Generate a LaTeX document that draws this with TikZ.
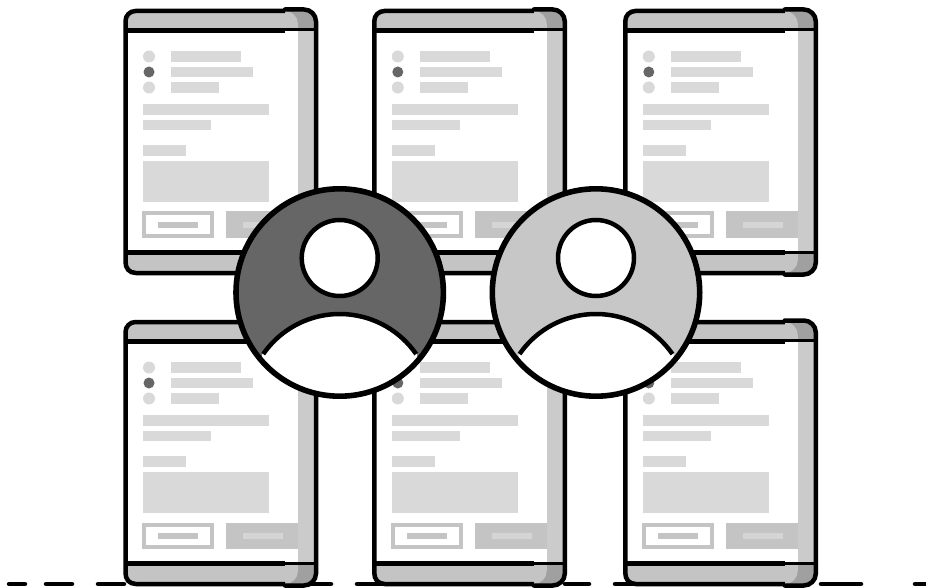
\documentclass[tikz,border=0pt]{standalone}
\definecolor{hdr}{HTML}{C4C4C4}
\definecolor{hdrdark}{HTML}{A0A0A0}
\definecolor{strip}{HTML}{CBCBCB}
\definecolor{barc}{HTML}{D9D9D9}
\definecolor{dotdark}{HTML}{666666}
\definecolor{avatarlight}{HTML}{C7C7C7}
\tikzset{
  ink/.style={draw=black,line width=4.5pt},
  bar/.style={fill=barc},
  avatar/.style={draw=black,line width=5.6pt},
}
\newcommand{\phone}[2]{%
\begin{scope}[shift={(#1,#2)}]
  % body
  \fill[white] (125.5,20) rectangle (316,262);
  \fill[strip] (298,28) rectangle (316,254);
  % header and footer fills
  \fill[hdrdark] (125.5,30) -- (125.5,21) arc[start angle=180,end angle=270,radius=10] -- (285,9.5) -- (304,9.5) arc[start angle=270,end angle=360,radius=12] -- (316,30) -- cycle;
  \fill[hdr] (125.5,30) -- (125.5,21) arc[start angle=180,end angle=270,radius=10] -- (285,11) arc[start angle=270,end angle=360,radius=13] -- (298,30) -- cycle;
  \fill[hdrdark] (125.5,253) -- (125.5,262) .. controls (125.5,268) and (129,273) .. (136,273) -- (304,274.5) arc[start angle=90,end angle=0,radius=12] -- (316,253) -- cycle;
  \fill[hdr] (125.5,253) -- (125.5,262) .. controls (125.5,268) and (129,273) .. (136,273) -- (285,273) .. controls (292,273) and (298,267) .. (298,260) -- (298,253) -- cycle;
  % outline
  \draw[ink] (125.5,30) -- (125.5,262) .. controls (125.5,268) and (129,273) .. (136,273) -- (285,273);
  \draw[ink] (125.5,30) -- (125.5,21) arc[start angle=180,end angle=270,radius=10] -- (285,11);
  \draw[ink,line cap=round] (285,9.5) -- (304,9.5) arc[start angle=270,end angle=360,radius=12] -- (316,262.5) arc[start angle=0,end angle=90,radius=12] -- (285,274.5);
  \draw[ink] (125.5,30.3) -- (285,30.3);
  \draw[line width=3.4pt] (285,29.6) -- (316,29.6);
  \draw[ink] (125.5,252.7) -- (285,252.7);
  \draw[line width=3.4pt] (285,252.2) -- (316,252.2);
  % list
  \fill[barc] (149,56.5) circle[radius=6];
  \fill[dotdark] (149,72) circle[radius=5.5];
  \fill[barc] (149,87.5) circle[radius=6];
  \fill[bar] (171,51) rectangle (241,62);
  \fill[bar] (171,67) rectangle (253,77);
  \fill[bar] (171,82) rectangle (219,93);
  \fill[bar] (143,104) rectangle (268.7,115);
  \fill[bar] (143,120) rectangle (211,130);
  \fill[bar] (143,145) rectangle (186,156);
  \fill[bar] (143,161) rectangle (268.7,202);
  % buttons
  \draw[draw=hdr,line width=4pt] (144,213.5) rectangle (212,236);
  \fill[hdr] (158,222) rectangle (198,228);
  \fill[hdr] (226,211.5) rectangle (298,238);
  \fill[barc!80!hdr] (243,222) rectangle (283,228);
\end{scope}}
\newcommand{\avatar}[2]{%
  \fill[#2] (#1,292.5) circle[radius=103.7];
  \begin{scope}
    \clip (#1,292.5) circle[radius=103.7];
    \fill[white] (#1,407) ++(-145.8:93.7) arc[start angle=-145.8,end angle=-34.2,radius=93.7] -- ++(0,60) -- ++(-155,0) -- cycle;
  \end{scope}
  \draw[black,line width=4.5pt] (#1,407) ++(-145.3:93) arc[start angle=-145.3,end angle=-34.7,radius=93];
  \draw[avatar] (#1,292.5) circle[radius=103.7];
  \draw[ink,fill=white] (#1,258) circle[radius=38];
}
\begin{document}
\begin{tikzpicture}[x=1pt,y=-1pt]
\useasboundingbox (0,0) rectangle (926,588);
\fill[white] (0,0) rectangle (926,588);
% baseline
\foreach \a/\b in {9/25,46/72,98/124,150/176,202/228,254/280,306/331,357/383,409/435,461/487,513/539,565/589,615/640,821/861,915/930}
  \draw[black,line width=4.5pt,line cap=round] (\a,584) -- (\b,584);
\foreach \py in {0,311} \foreach \px in {0,248.8,499.8} { \phone{\px}{\py} }
\avatar{339.7}{dotdark}
\avatar{596}{avatarlight}
\end{tikzpicture}
\end{document}
